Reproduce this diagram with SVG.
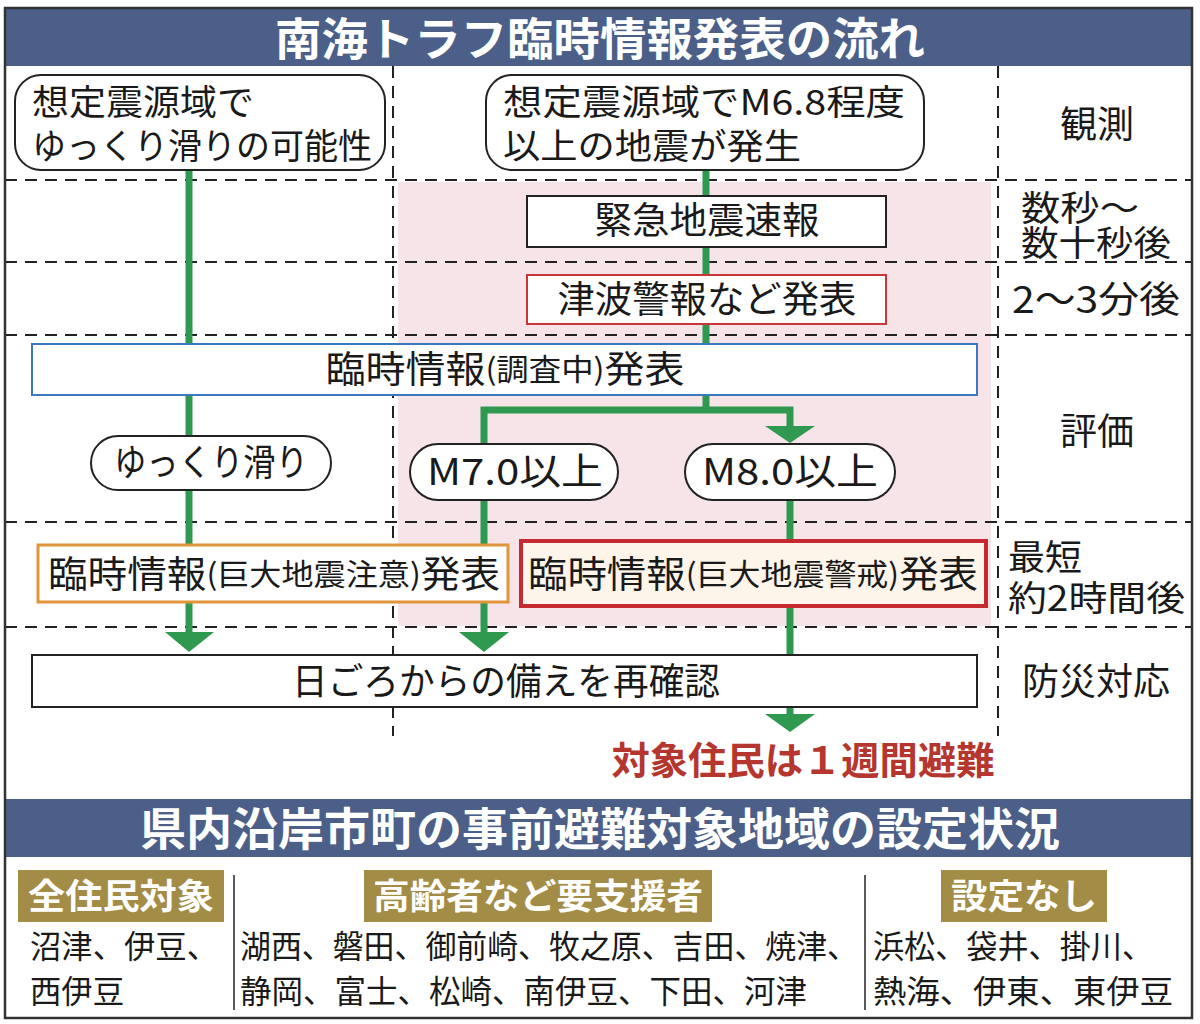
<svg xmlns="http://www.w3.org/2000/svg" width="1200" height="1024" viewBox="0 0 1200 1024">
<defs>
<style>
text{font-family:"Noto Sans CJK JP","Noto Sans",sans-serif;fill:#1a1a1a;dominant-baseline:central}
.t{font-size:37px}
.t2{font-size:35px}
.s{font-size:30px}
.title{font-size:45px;fill:#fff;font-weight:700;text-anchor:middle}
.gold{font-size:35px;fill:#fff;font-weight:700;text-anchor:middle}
.mid{text-anchor:middle}
.dash{stroke:#222;stroke-width:2;stroke-dasharray:12 8;fill:none}
.g{stroke:#2f9a4f;stroke-width:7;fill:none}
.ah{fill:#2f9a4f}
.box{fill:#fff;stroke:#222;stroke-width:2}
.lst{font-size:32px}
</style>
</defs>
<rect x="0" y="0" width="1200" height="1024" fill="#fff"/>
<!-- pink region -->
<rect x="398" y="182" width="593" height="444" fill="#f6e4e9"/>
<!-- headers -->
<rect x="5" y="8" width="1187" height="58" fill="#4b5f88"/>
<text class="title" x="600" y="36" textLength="650" lengthAdjust="spacingAndGlyphs">南海トラフ臨時情報発表の流れ</text>
<!-- grid dashed lines -->
<g id="grid">
<line class="dash" x1="5" y1="180" x2="1192" y2="180"/>
<line class="dash" x1="5" y1="262" x2="1192" y2="262"/>
<line class="dash" x1="5" y1="335" x2="1192" y2="335"/>
<line class="dash" x1="5" y1="522" x2="1192" y2="522"/>
<line class="dash" x1="5" y1="627" x2="1192" y2="627"/>
<line class="dash" x1="393" y1="66" x2="393" y2="736"/>
<line class="dash" x1="998" y1="66" x2="998" y2="736"/>
</g>
<!-- connectors -->
<g id="connectors">
<line class="g" x1="189" y1="170" x2="189" y2="633"/>
<polygon class="ah" points="165,632 214,632 189,652"/>
<line class="g" x1="706" y1="170" x2="706" y2="410"/>
<path class="g" d="M484,444 V410 H790 V427"/>
<polygon class="ah" points="765,426 815,426 790,443"/>
<line class="g" x1="484" y1="500" x2="484" y2="633"/>
<polygon class="ah" points="459,632 509,632 484,652"/>
<line class="g" x1="790" y1="500" x2="790" y2="715"/>
<polygon class="ah" points="765,714 815,714 790,732"/>
</g>
<!-- nodes -->
<g id="n-slowslip-possible">
<rect class="box" x="15" y="75" width="370" height="95" rx="26"/>
<text class="t2" x="32" y="99" textLength="222" lengthAdjust="spacingAndGlyphs">想定震源域で</text>
<text class="t2" x="32" y="143" textLength="340" lengthAdjust="spacingAndGlyphs">ゆっくり滑りの可能性</text>
</g>
<g id="n-quake">
<rect class="box" x="486" y="75" width="438" height="95" rx="26"/>
<text class="t2" x="503" y="99" textLength="402" lengthAdjust="spacingAndGlyphs">想定震源域でM6.8程度</text>
<text class="t2" x="503" y="143" textLength="298" lengthAdjust="spacingAndGlyphs">以上の地震が発生</text>
</g>
<g id="n-eew">
<rect class="box" x="527" y="196" width="359" height="51"/>
<text class="t mid" x="707" y="218" textLength="225" lengthAdjust="spacingAndGlyphs">緊急地震速報</text>
</g>
<g id="n-tsunami">
<rect x="527" y="275" width="359" height="49" fill="#fff" stroke="#c8353a" stroke-width="2"/>
<text class="t mid" x="707" y="297" textLength="299" lengthAdjust="spacingAndGlyphs">津波警報など発表</text>
</g>
<g id="n-investigating">
<rect x="32" y="344" width="945" height="51" fill="#fff" stroke="#3a78c0" stroke-width="2"/>
<text class="t mid" x="505" y="367" textLength="359" lengthAdjust="spacingAndGlyphs"><tspan>臨時情報</tspan><tspan class="s">(調査中)</tspan><tspan>発表</tspan></text>
</g>
<g id="n-slowslip">
<rect class="box" x="91" y="436" width="240" height="54" rx="27"/>
<text class="t mid" x="211" y="460" textLength="194" lengthAdjust="spacingAndGlyphs">ゆっくり滑り</text>
</g>
<g id="n-m7">
<rect class="box" x="410" y="444" width="208" height="56" rx="28"/>
<text class="t mid" x="515" y="469" textLength="176" lengthAdjust="spacingAndGlyphs">M7.0以上</text>
</g>
<g id="n-m8">
<rect class="box" x="685" y="444" width="210" height="56" rx="28"/>
<text class="t mid" x="790" y="469" textLength="176" lengthAdjust="spacingAndGlyphs">M8.0以上</text>
</g>
<g id="n-caution">
<rect x="38" y="545" width="470" height="57" fill="#fff" stroke="#e0953a" stroke-width="3"/>
<text class="t mid" x="274" y="572" textLength="452" lengthAdjust="spacingAndGlyphs"><tspan>臨時情報</tspan><tspan class="s">(巨大地震注意)</tspan><tspan>発表</tspan></text>
</g>
<g id="n-warning">
<rect x="521" y="541" width="465" height="65" fill="#fdf4ea" stroke="#c42a2f" stroke-width="4"/>
<text class="t mid" x="753" y="572" textLength="450" lengthAdjust="spacingAndGlyphs"><tspan>臨時情報</tspan><tspan class="s">(巨大地震警戒)</tspan><tspan>発表</tspan></text>
</g>
<g id="n-prepare">
<rect class="box" x="32" y="655" width="945" height="52"/>
<text class="t mid" x="506" y="679" textLength="428" lengthAdjust="spacingAndGlyphs">日ごろからの備えを再確認</text>
</g>
<g id="n-evacuate">
<text class="mid" x="803" y="757" font-size="38" font-weight="700" style="fill:#b5362f" textLength="383" lengthAdjust="spacingAndGlyphs">対象住民は１週間避難</text>
</g>
<!-- time column -->
<g id="time-labels">
<text class="t mid" x="1097" y="122">観測</text>
<text class="t2" x="1021" y="205" textLength="118" lengthAdjust="spacingAndGlyphs">数秒～</text>
<text class="t2" x="1021" y="240" textLength="150" lengthAdjust="spacingAndGlyphs">数十秒後</text>
<text class="t" x="1012" y="297" textLength="168" lengthAdjust="spacingAndGlyphs">2～3分後</text>
<text class="t mid" x="1097" y="429">評価</text>
<text class="t2" x="1008" y="554" textLength="74" lengthAdjust="spacingAndGlyphs">最短</text>
<text class="t2" x="1008" y="595" textLength="177" lengthAdjust="spacingAndGlyphs">約2時間後</text>
<text class="t" x="1022" y="679" textLength="148" lengthAdjust="spacingAndGlyphs">防災対応</text>
</g>
<!-- second header -->
<rect x="5" y="799" width="1187" height="58" fill="#4b5f88"/>
<text class="title" x="600" y="826" textLength="920" lengthAdjust="spacingAndGlyphs">県内沿岸市町の事前避難対象地域の設定状況</text>
<g id="cat-all">
<rect x="18" y="870" width="206" height="52" fill="#a38c45"/>
<text class="gold" x="121" y="893" textLength="186" lengthAdjust="spacingAndGlyphs">全住民対象</text>
<text class="lst" x="30" y="944" textLength="188" lengthAdjust="spacingAndGlyphs">沼津、伊豆、</text>
<text class="lst" x="30" y="989" textLength="94" lengthAdjust="spacingAndGlyphs">西伊豆</text>
</g>
<g id="cat-elderly">
<rect x="364" y="870" width="348" height="52" fill="#a38c45"/>
<text class="gold" x="538" y="893" textLength="330" lengthAdjust="spacingAndGlyphs">高齢者など要支援者</text>
<text class="lst" x="240" y="944" textLength="618" lengthAdjust="spacingAndGlyphs">湖西、磐田、御前崎、牧之原、吉田、焼津、</text>
<text class="lst" x="240" y="989" textLength="567" lengthAdjust="spacingAndGlyphs">静岡、富士、松崎、南伊豆、下田、河津</text>
</g>
<g id="cat-none">
<rect x="941" y="870" width="166" height="52" fill="#a38c45"/>
<text class="gold" x="1024" y="893" textLength="146" lengthAdjust="spacingAndGlyphs">設定なし</text>
<text class="lst" x="873" y="944" textLength="280" lengthAdjust="spacingAndGlyphs">浜松、袋井、掛川、</text>
<text class="lst" x="873" y="989" textLength="300" lengthAdjust="spacingAndGlyphs">熱海、伊東、東伊豆</text>
</g>
<line x1="234" y1="875" x2="234" y2="1010" stroke="#222" stroke-width="1.5"/>
<line x1="865" y1="875" x2="865" y2="1010" stroke="#222" stroke-width="1.5"/>
<!-- outer border -->
<rect x="5" y="8" width="1187" height="1010" fill="none" stroke="#333" stroke-width="2.5"/>
</svg>
